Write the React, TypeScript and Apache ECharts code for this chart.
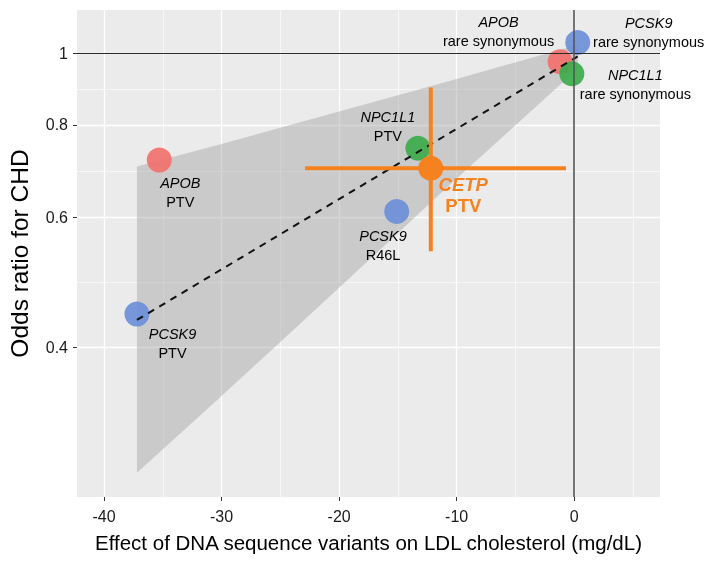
import React, { useEffect, useRef } from "react";
import * as echarts from "echarts";

// ---- data ----
const genes = ["APOB", "PCSK9", "NPC1L1", "PCSK9", "APOB", "PCSK9", "NPC1L1"];
const variants = ["PTV", "PTV", "PTV", "R46L", "rare synonymous", "rare synonymous", "rare synonymous"];
const ldlEffect = [-35.3, -37.2, -13.3, -15.1, -1.2, 0.3, -0.2];
const oddsRatio = [0.717, 0.444, 0.744, 0.611, 0.974, 1.034, 0.938];

const cetpGene = "CETP";
const cetpVariant = "PTV";
const cetpLdl = -12.2;
const cetpOR = 0.699;
const cetpLdlRange = [-22.9, -0.7];
const cetpORRange = [0.54, 0.899];

const fitLdl = [-37.2, 0.3];
const fitOR = [0.436, 0.99];

const bandLdl = [-37.2, -30, -20, -10, 0.3];
const bandUpper = [0.703, 0.754, 0.834, 0.923, 1.027];
const bandLower = [0.271, 0.344, 0.482, 0.677, 0.953];

const xTicks = [-40, -30, -20, -10, 0];
const xMinorTicks = [-35, -25, -15, -5, 5];
const yTicks = [0.4, 0.6, 0.8, 1];
const yTickLabels = ["0.4", "0.6", "0.8", "1"];
const xRange = [-42.3, 7.3];
const yRange = [0.2513, 1.144];

// ---- styles ----
const FONT = "'Liberation Sans', Arial, Helvetica, sans-serif";
const geneColors: Record<string, string> = {
  APOB: "#F2716C",
  PCSK9: "#6C8FD8",
  NPC1L1: "#3DAB4C",
};
const ORANGE = "#F5821F";
const labelOffsets: number[][] = [
  [21, 32.5],
  [35.6, 29.3],
  [-30, -21.7],
  [-13.7, 33.8],
  [-61.5, -30],
  [71, -9.5],
  [63.5, 11.2],
];

export default function App() {
  const ref = useRef<HTMLDivElement>(null);

  useEffect(() => {
    if (!ref.current) return;
    const chart = echarts.init(ref.current, undefined, { renderer: "svg" });
    const ln = Math.log;
    const yTickVals = yTicks.map((t) => ln(t));
    const yMinorVals = yTickVals.slice(0, -1).map((v, i) => (v + yTickVals[i + 1]) / 2);

    const points = ldlEffect.map((x, i) => ({
      value: [x, ln(oddsRatio[i])],
      itemStyle: { color: geneColors[genes[i]], opacity: 0.92 },
      label: {
        show: true,
        position: "inside",
        offset: labelOffsets[i],
        align: "center",
        verticalAlign: "middle",
        color: "#000",
        opacity: 1,
        formatter: `{g|${genes[i]}}\n{n|${variants[i]}}`,
      },
    }));

    const option: any = {
      animation: false,
      grid: {
        left: 77,
        right: 54,
        top: 10,
        bottom: 66,
        show: true,
        backgroundColor: "#EBEBEB",
        borderWidth: 0,
        containLabel: false,
        outerBoundsMode: "none",
      },
      xAxis: [
        {
          type: "value",
          min: xRange[0],
          max: xRange[1],
          position: "bottom",
          axisLine: { show: false, onZero: false },
          axisTick: { show: true, length: 4, lineStyle: { color: "#333", width: 1 }, customValues: xTicks },
          axisLabel: {
            customValues: xTicks,
            fontSize: 16,
            color: "#1a1a1a",
            margin: 11,
            fontFamily: FONT,
          },
          splitLine: { show: true, lineStyle: { color: "#FFFFFF", width: 1.3 } },
          name: "Effect of DNA sequence variants on LDL cholesterol (mg/dL)",
          nameLocation: "middle",
          nameGap: 35,
          nameTextStyle: { fontSize: 20.5, color: "#000", fontFamily: FONT },
        },
        {
          type: "value",
          min: xRange[0],
          max: xRange[1],
          position: "top",
          axisLine: { show: false, onZero: false },
          axisTick: { show: false, customValues: xMinorTicks },
          axisLabel: { show: false, customValues: xMinorTicks },
          splitLine: { show: true, lineStyle: { color: "#FFFFFF", width: 0.6 } },
        },
      ],
      yAxis: [
        {
          type: "value",
          min: ln(yRange[0]),
          max: ln(yRange[1]),
          position: "left",
          axisLine: { show: false, onZero: false },
          axisTick: { show: true, length: 4, lineStyle: { color: "#333", width: 1 }, customValues: yTickVals },
          axisLabel: {
            customValues: yTickVals,
            fontSize: 16,
            color: "#1a1a1a",
            margin: 9,
            fontFamily: FONT,
            formatter: (v: number) => {
              const i = yTickVals.findIndex((t) => Math.abs(t - v) < 1e-6);
              return i >= 0 ? yTickLabels[i] : "";
            },
          },
          splitLine: { show: true, lineStyle: { color: "#FFFFFF", width: 1.3 } },
          name: "Odds ratio for CHD",
          nameLocation: "middle",
          nameGap: 45,
          nameTextStyle: { fontSize: 24.5, color: "#000", fontFamily: FONT },
        },
        {
          type: "value",
          min: ln(yRange[0]),
          max: ln(yRange[1]),
          position: "right",
          axisLine: { show: false, onZero: false },
          axisTick: { show: false, customValues: yMinorVals },
          axisLabel: { show: false, customValues: yMinorVals },
          splitLine: { show: true, lineStyle: { color: "#FFFFFF", width: 0.6 } },
        },
      ],
      series: [
        {
          type: "custom",
          z: 1,
          silent: true,
          data: [[bandLdl[0], ln(bandUpper[0])]],
          renderItem: (_p: any, api: any) => {
            const pts: number[][] = [];
            for (let i = 0; i < bandLdl.length; i++) pts.push(api.coord([bandLdl[i], ln(bandUpper[i])]));
            for (let i = bandLdl.length - 1; i >= 0; i--) pts.push(api.coord([bandLdl[i], ln(bandLower[i])]));
            return { type: "polygon", shape: { points: pts }, style: { fill: "rgba(153,153,153,0.4)" } };
          },
        },
        {
          type: "line",
          z: 2,
          data: [],
          markLine: {
            silent: true,
            symbol: ["none", "none"],
            label: { show: false },
            data: [
              { yAxis: ln(1), lineStyle: { color: "#2a2a2a", width: 1.2, type: "solid" } },
              { xAxis: 0, lineStyle: { color: "#555", width: 1.6, type: "solid" } },
            ],
          },
        },
        {
          type: "scatter",
          z: 3,
          symbolSize: 25,
          data: points,
          label: {
            color: "#000",
            fontFamily: FONT,
            rich: {
              g: { fontStyle: "italic", fontSize: 14.5, lineHeight: 19, color: "#000", fontFamily: FONT },
              n: { fontSize: 14.5, lineHeight: 19, color: "#000", fontFamily: FONT },
            },
          },
        },
        {
          type: "line",
          z: 4,
          data: fitLdl.map((x, i) => [x, ln(fitOR[i])]),
          showSymbol: false,
          symbol: "none",
          lineStyle: { color: "#111", width: 2, type: [7, 6] },
        },
        {
          type: "line",
          z: 5,
          data: cetpLdlRange.map((x) => [x, ln(cetpOR)]),
          symbol: "none",
          lineStyle: { color: ORANGE, width: 4 },
        },
        {
          type: "line",
          z: 5,
          data: cetpORRange.map((o) => [cetpLdl, ln(o)]),
          symbol: "none",
          lineStyle: { color: ORANGE, width: 4 },
        },
        {
          type: "scatter",
          z: 6,
          symbolSize: 25,
          data: [
            {
              value: [cetpLdl, ln(cetpOR)],
              itemStyle: { color: ORANGE, opacity: 1 },
              label: {
                show: true,
                position: "inside",
                offset: [32.5, 26.7],
                align: "center",
                verticalAlign: "middle",
                formatter: `{g|${cetpGene}}\n{n|${cetpVariant}}`,
                rich: {
                  g: { fontStyle: "italic", fontWeight: "bold", fontSize: 18.5, lineHeight: 21, color: ORANGE, fontFamily: FONT },
                  n: { fontWeight: "bold", fontSize: 18.5, lineHeight: 21, color: ORANGE, fontFamily: FONT },
                },
              },
            },
          ],
        },
      ],
    };
    chart.setOption(option);
    return () => chart.dispose();
  }, []);

  return <div ref={ref} style={{ position: "fixed", left: 0, top: 0, width: 714, height: 563 }} />;
}
